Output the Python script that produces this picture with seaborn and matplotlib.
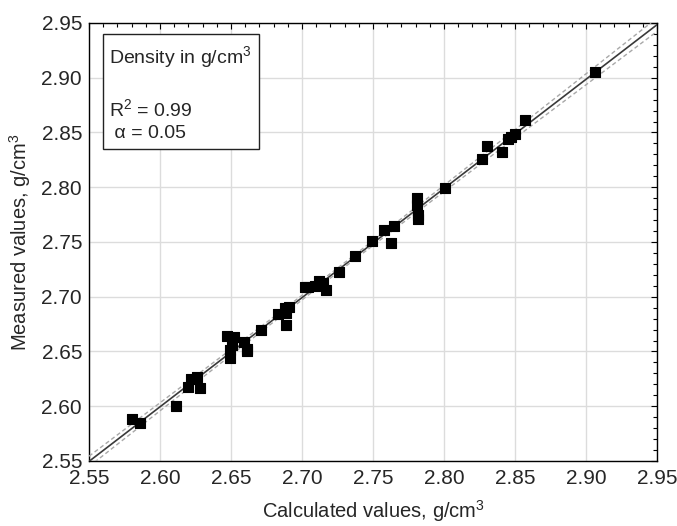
import numpy as np
import pandas as pd
import matplotlib
matplotlib.use("Agg")
import matplotlib.pyplot as plt
from matplotlib.ticker import MultipleLocator
import seaborn as sns

# calculated vs measured density, g/cm3
calculated = [2.580, 2.586, 2.611, 2.620, 2.622, 2.626, 2.628, 2.647, 2.649, 2.649,
              2.651, 2.652, 2.659, 2.661, 2.661, 2.671, 2.683, 2.688, 2.689, 2.689,
              2.691, 2.702, 2.704, 2.709, 2.712, 2.715, 2.717, 2.726, 2.737, 2.749,
              2.758, 2.763, 2.765, 2.781, 2.781, 2.782, 2.782, 2.801, 2.827, 2.830,
              2.841, 2.845, 2.847, 2.850, 2.857, 2.906]
measured = [2.588, 2.585, 2.600, 2.618, 2.625, 2.627, 2.617, 2.664, 2.651, 2.644,
            2.656, 2.663, 2.659, 2.650, 2.652, 2.670, 2.684, 2.690, 2.674, 2.685,
            2.691, 2.709, 2.709, 2.710, 2.714, 2.713, 2.706, 2.723, 2.737, 2.751,
            2.761, 2.749, 2.765, 2.790, 2.784, 2.775, 2.771, 2.799, 2.826, 2.838,
            2.832, 2.844, 2.846, 2.849, 2.861, 2.905]

ticks = [2.55, 2.60, 2.65, 2.70, 2.75, 2.80, 2.85, 2.90, 2.95]
t_crit = 2.015  # t(0.975, n-2) for alpha = 0.05

df = pd.DataFrame({"calc": calculated, "meas": measured})

sns.set_style("white")
plt.rcParams["font.family"] = ["Liberation Sans", "DejaVu Sans"]
plt.rcParams["mathtext.fontset"] = "custom"
plt.rcParams["mathtext.rm"] = "Liberation Sans"

fig = plt.figure(figsize=(6.77, 5.26), dpi=100)
ax = fig.add_axes([0.1315, 0.1236, 0.839, 0.8327])

# linear fit and 95% confidence band of the mean
x = df["calc"].to_numpy()
y = df["meas"].to_numpy()
slope, intercept = np.polyfit(x, y, 1)
xs = np.linspace(ticks[0], ticks[-1], 200)
fit = slope * xs + intercept
resid = y - (slope * x + intercept)
s = np.sqrt(np.sum(resid ** 2) / (len(x) - 2))
se = s * np.sqrt(1 / len(x) + (xs - x.mean()) ** 2 / np.sum((x - x.mean()) ** 2))

ax.plot(xs, fit, color="#3a3a3a", lw=1.2, zorder=3)
ax.plot(xs, fit + t_crit * se, color="#a8a8a8", lw=1.0, ls=(0, (3, 2)), zorder=3)
ax.plot(xs, fit - t_crit * se, color="#a8a8a8", lw=1.0, ls=(0, (3, 2)), zorder=3)

sns.scatterplot(data=df, x="calc", y="meas", marker="s", s=55, color="black",
                edgecolor="black", linewidth=0.8, ax=ax, zorder=4)

ax.set_xlim(ticks[0], ticks[-1])
ax.set_ylim(ticks[0], ticks[-1])
ax.set_xticks(ticks)
ax.set_yticks(ticks)
ax.set_xticklabels([f"{t:.2f}" for t in ticks])
ax.set_yticklabels([f"{t:.2f}" for t in ticks])
ax.xaxis.set_minor_locator(MultipleLocator(0.01))
ax.yaxis.set_minor_locator(MultipleLocator(0.01))
ax.tick_params(which="both", direction="in", top=True, right=True, color="black",
               width=0.8, labelsize=15)
ax.tick_params(which="major", length=4)
ax.tick_params(which="minor", length=3)
ax.tick_params(axis="x", pad=6)
ax.tick_params(axis="y", pad=5)
ax.grid(True, which="major", color="#dcdcdc", lw=1.0)
for sp in ax.spines.values():
    sp.set_color("black")
    sp.set_linewidth(1.0)

ax.set_xlabel("Calculated values, g/cm$^3$", fontsize=14.5, labelpad=7)
ax.set_ylabel("Measured values, g/cm$^3$", fontsize=14.5, labelpad=6)

ax.text(0.036, 0.952, "Density in g/cm$^3$\n\nR$^2$ = 0.99\n α = 0.05",
        transform=ax.transAxes, ha="left", va="top", fontsize=14, linespacing=1.33,
        bbox=dict(boxstyle="square,pad=0.35", facecolor="white", edgecolor="#222222", lw=1.0),
        zorder=5)

fig.savefig("out.png", dpi=100)
